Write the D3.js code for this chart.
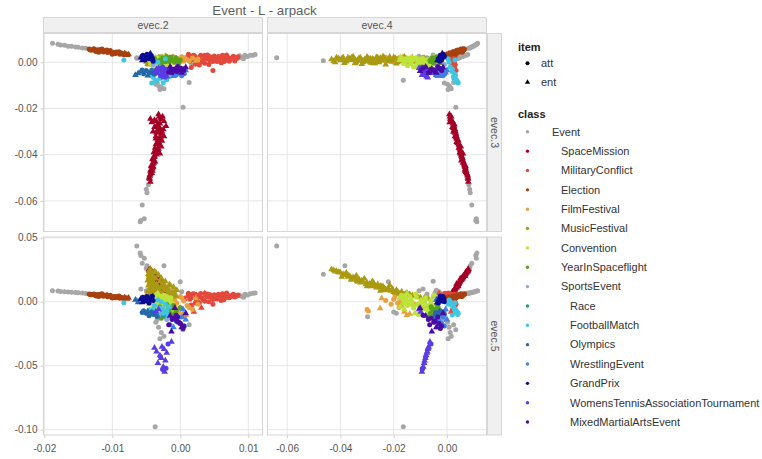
<!DOCTYPE html>
<html><head><meta charset="utf-8">
<script src="https://cdn.jsdelivr.net/npm/d3@7"></script>
<style>
body{margin:0;background:#fff;}
svg{display:block;font-family:"Liberation Sans",Arial,Helvetica,sans-serif;}
</style>
</head><body>
<svg id="chart" width="762" height="459"></svg>
<script>
// ---------------- DATA ----------------
// each point: [evec.2, evec.3, evec.4, evec.5, item]  item: 0 = att, 1 = ent
const eventPts = [
  [-0.0188,0.0082,0.0115,0.0085,0],[-0.0180,0.0078,0.0112,0.0083,0],[-0.0176,0.0075,0.0107,0.0079,0],
  [-0.0170,0.0074,0.0104,0.0078,0],[-0.0165,0.0070,0.0099,0.0075,0],[-0.0160,0.0069,0.0097,0.0074,0],
  [-0.0154,0.0066,0.0092,0.0071,0],[-0.0150,0.0065,0.0089,0.0069,0],[-0.0144,0.0062,0.0086,0.0068,0],
  [-0.0139,0.0061,0.0081,0.0065,0],
  [0.0082,0.0022,0.0035,0.0045,0],[0.0087,0.0028,0.0042,0.0050,0],[0.0091,0.0020,0.0048,0.0040,0],
  [0.0095,0.0030,0.0055,0.0058,0],[0.0099,0.0025,0.0060,0.0052,0],[0.0103,0.0031,0.0066,0.0062,0],
  [0.0107,0.0030,0.0072,0.0066,0],[0.0110,0.0034,0.0078,0.0068,0],[0.0093,0.0015,0.0040,0.0035,0],
  [-0.0064,0.0018,-0.0060,0.0013,0],[-0.0058,0.0022,-0.0090,0.0100,0],[-0.0050,0.0026,-0.0105,0.0085,0],
  [-0.0042,0.0020,-0.0075,0.0060,0],[-0.0030,0.0024,-0.0050,0.0045,0],[-0.0015,0.0020,-0.0045,0.0070,0],
  [-0.0008,0.0018,-0.0040,0.0090,0],[0.0002,0.0016,-0.0030,0.0078,0],[0.0012,0.0012,-0.0020,0.0060,0],
  [-0.0045,0.0032,-0.0052,0.0160,0],[0.0000,0.0010,-0.0220,0.0156,0],[-0.0024,0.0005,-0.0383,0.0281,0],
  [-0.0037,0.0007,-0.0464,0.0214,0],[-0.0064,0.0020,-0.0639,0.0435,0],[-0.0037,-0.0078,-0.0164,-0.0977,0],
  [-0.0010,0.0000,-0.0200,-0.0080,0],[-0.0005,0.0005,-0.0190,-0.0090,0],[0.0005,0.0008,-0.0298,-0.0118,0],
  [-0.0036,-0.0095,0.0002,-0.0160,0],[-0.0032,-0.0102,0.0008,-0.0200,0],[-0.0028,-0.0108,0.0012,-0.0240,0],
  [-0.0024,-0.0115,0.0016,-0.0270,0],[-0.0030,-0.0118,0.0004,-0.0290,0],[-0.0034,-0.0090,-0.0010,-0.0140,0],
  [0.0013,-0.0087,0.0025,-0.0180,0],[0.0004,-0.0195,0.0033,-0.0220,0],[0.0017,-0.0010,0.0030,-0.0040,0],
  [-0.0044,-0.0500,0.0080,0.0230,0],[-0.0047,-0.0530,0.0082,0.0240,0],[-0.0050,-0.0550,0.0085,0.0260,0],
  [-0.0049,-0.0565,0.0087,0.0280,0],[-0.0056,-0.0618,0.0093,0.0300,0],[-0.0053,-0.0677,0.0110,0.0340,0],
  [-0.0059,-0.0690,0.0112,0.0380,0],[-0.0058,-0.0685,0.0108,0.0360,0]
];
const spaceMissionPts = [
  [-0.0032,-0.0225,0.0009,0.0035,1],[-0.0044,-0.0245,0.0012,0.0045,1],[-0.0026,-0.0235,0.0016,0.0040,1],
  [-0.0021,-0.0276,0.0026,0.0085,1],[-0.0035,-0.0255,0.0018,0.0060,1],[-0.0030,-0.0265,0.0022,0.0070,1],
  [-0.0038,-0.0280,0.0020,0.0075,1],[-0.0025,-0.0290,0.0030,0.0100,1],[-0.0033,-0.0300,0.0026,0.0090,1],
  [-0.0028,-0.0310,0.0034,0.0115,1],[-0.0036,-0.0320,0.0030,0.0105,1],[-0.0031,-0.0330,0.0038,0.0125,1],
  [-0.0027,-0.0340,0.0042,0.0140,1],[-0.0034,-0.0350,0.0040,0.0130,1],[-0.0030,-0.0360,0.0046,0.0150,1],
  [-0.0037,-0.0370,0.0044,0.0145,1],[-0.0033,-0.0380,0.0050,0.0165,1],[-0.0039,-0.0390,0.0048,0.0160,1],
  [-0.0035,-0.0400,0.0054,0.0175,1],[-0.0038,-0.0410,0.0056,0.0185,1],[-0.0041,-0.0420,0.0058,0.0180,1],
  [-0.0037,-0.0430,0.0062,0.0200,1],[-0.0040,-0.0440,0.0064,0.0205,1],[-0.0043,-0.0450,0.0066,0.0200,1],
  [-0.0041,-0.0460,0.0070,0.0220,1],[-0.0044,-0.0470,0.0072,0.0225,1],[-0.0042,-0.0480,0.0074,0.0235,1],
  [-0.0045,-0.0490,0.0077,0.0240,1],[-0.0044,-0.0517,0.0080,0.0255,1],[-0.0029,-0.0245,0.0014,0.0050,0],
  [-0.0040,-0.0300,0.0024,0.0080,1],[-0.0024,-0.0320,0.0036,0.0120,1],[-0.0032,-0.0345,0.0036,0.0110,1],
  [-0.0028,-0.0365,0.0052,0.0170,1],[-0.0036,-0.0395,0.0060,0.0190,1],[-0.0039,-0.0425,0.0054,0.0170,1],
  [-0.0043,-0.0465,0.0068,0.0215,1],[-0.0046,-0.0500,0.0078,0.0250,1],[-0.0034,-0.0270,0.0028,0.0095,1],
  [-0.0042,-0.0260,0.0010,0.0055,1],
  [-0.0031,-0.0235,0.0011,0.0040,1],[-0.0038,-0.0250,0.0015,0.0052,1],[-0.0024,-0.0255,0.0020,0.0065,1],
  [-0.0030,-0.0285,0.0024,0.0082,1],[-0.0035,-0.0305,0.0030,0.0100,1],[-0.0029,-0.0325,0.0034,0.0112,1],
  [-0.0033,-0.0335,0.0040,0.0135,1],[-0.0036,-0.0355,0.0044,0.0140,1],[-0.0032,-0.0375,0.0048,0.0158,1],
  [-0.0036,-0.0385,0.0052,0.0170,1],[-0.0038,-0.0405,0.0054,0.0178,1],[-0.0040,-0.0415,0.0058,0.0190,1],
  [-0.0039,-0.0435,0.0060,0.0195,1],[-0.0042,-0.0445,0.0066,0.0210,1],[-0.0040,-0.0455,0.0068,0.0212,1],
  [-0.0043,-0.0475,0.0071,0.0228,1],[-0.0044,-0.0485,0.0076,0.0238,1],[-0.0045,-0.0505,0.0079,0.0248,1],
  [-0.0033,-0.0290,0.0028,0.0092,1],[-0.0027,-0.0300,0.0032,0.0108,1],
  [-0.0036,-0.0330,0.0036,0.0140,1],[-0.0030,-0.0395,0.0050,0.0180,1],[-0.0040,-0.0450,0.0070,0.0230,1],
  [-0.0034,-0.0280,0.0024,0.0070,1],[-0.0041,-0.0470,0.0068,0.0205,1],[-0.0031,-0.0350,0.0042,0.0120,1]
];
const militaryConflictPts = [
  [0.0010,0.0020,0.0000,0.0040,1],[0.0014,0.0005,0.0010,0.0020,0],[0.0018,0.0028,-0.0005,0.0060,0],
  [0.0022,-0.0008,0.0020,-0.0010,0],[0.0026,0.0015,0.0005,0.0035,0],[0.0030,0.0030,0.0000,0.0065,0],
  [0.0034,0.0002,0.0025,0.0015,0],[0.0038,0.0020,0.0012,0.0048,0],[0.0042,-0.0010,0.0030,0.0000,0],
  [0.0046,0.0012,0.0008,0.0030,0],[0.0050,0.0027,0.0002,0.0055,0],[0.0054,0.0004,0.0018,0.0022,0],
  [0.0058,0.0018,0.0010,0.0045,0],[0.0062,0.0030,0.0004,0.0062,0],[0.0066,0.0008,0.0022,0.0028,0],
  [0.0070,0.0022,0.0014,0.0050,0],[0.0074,0.0013,0.0020,0.0038,0],[0.0078,0.0026,0.0016,0.0058,0],
  [0.0082,0.0016,0.0026,0.0044,0],[0.0085,0.0024,0.0030,0.0052,0],[0.0048,-0.0036,0.0034,-0.0020,0],
  [0.0016,-0.0022,0.0028,-0.0026,0],[0.0012,0.0035,-0.0008,0.0066,0],[0.0060,-0.0002,0.0026,0.0010,0],
  [0.0040,0.0032,0.0006,0.0060,0],[0.0020,0.0010,0.0015,-0.0080,1],[0.0031,0.0000,0.0022,-0.0047,1],
  [0.0024,0.0018,-0.0020,0.0050,1],[0.0072,0.0005,0.0024,0.0030,0],[0.0036,0.0024,-0.0030,0.0066,1],
  [0.0006,0.0014,-0.0038,0.0020,1],[0.0080,0.0006,0.0012,0.0036,0],[0.0068,0.0032,0.0006,0.0068,0],
  [0.0044,0.0005,0.0016,0.0042,0],[0.0056,0.0025,0.0028,0.0058,0],
  [0.0012,0.0022,0.0012,0.0050,0],[0.0016,0.0012,0.0006,0.0030,0],[0.0020,0.0030,0.0002,0.0062,0],
  [0.0024,0.0002,0.0024,0.0012,0],[0.0028,0.0022,0.0010,0.0052,0],[0.0032,0.0010,0.0018,0.0028,0],
  [0.0036,0.0030,0.0004,0.0064,0],[0.0040,0.0014,0.0020,0.0036,0],[0.0044,0.0024,0.0008,0.0054,0],
  [0.0048,0.0003,0.0026,0.0018,0],[0.0052,0.0017,0.0012,0.0042,0],[0.0056,0.0009,0.0022,0.0030,0],
  [0.0060,0.0022,0.0006,0.0052,0],[0.0064,0.0015,0.0018,0.0040,0],[0.0068,0.0024,0.0010,0.0056,0],
  [0.0072,0.0016,0.0022,0.0044,0],[0.0076,0.0020,0.0008,0.0050,0],[0.0080,0.0022,0.0020,0.0048,0],
  [0.0084,0.0018,0.0024,0.0046,0],[0.0064,0.0002,0.0028,0.0016,0],[0.0028,-0.0012,0.0030,-0.0006,0],
  [0.0036,-0.0004,0.0024,0.0004,0]
];
const electionPts = [
  [-0.0134,0.0058,0.0066,0.0060,0],[-0.0131,0.0052,0.0062,0.0054,0],[-0.0128,0.0056,0.0060,0.0058,0],
  [-0.0125,0.0050,0.0057,0.0050,0],[-0.0122,0.0054,0.0054,0.0056,0],[-0.0119,0.0047,0.0050,0.0046,0],
  [-0.0116,0.0052,0.0048,0.0052,0],[-0.0113,0.0045,0.0044,0.0042,0],[-0.0110,0.0049,0.0041,0.0048,0],
  [-0.0107,0.0042,0.0038,0.0038,0],[-0.0104,0.0047,0.0034,0.0045,0],[-0.0101,0.0040,0.0030,0.0034,0],
  [-0.0098,0.0044,0.0027,0.0040,0],[-0.0095,0.0038,0.0024,0.0030,0],[-0.0092,0.0042,0.0020,0.0036,0],
  [-0.0089,0.0035,0.0017,0.0027,0],[-0.0086,0.0039,0.0013,0.0032,0],[-0.0083,0.0033,0.0010,0.0024,0],
  [-0.0080,0.0036,0.0006,0.0028,1],[-0.0078,0.0031,0.0003,0.0022,1],[-0.0115,0.0058,0.0052,0.0062,0],
  [-0.0100,0.0035,0.0033,0.0028,0],[-0.0090,0.0046,0.0022,0.0044,0],[-0.0120,0.0043,0.0057,0.0040,0],
  [-0.0076,0.0034,0.0000,0.0030,1],
  [-0.0133,0.0054,0.0064,0.0056,0],[-0.0127,0.0059,0.0061,0.0061,0],[-0.0124,0.0047,0.0055,0.0044,0],
  [-0.0118,0.0055,0.0051,0.0058,0],[-0.0112,0.0050,0.0045,0.0050,0],[-0.0106,0.0046,0.0037,0.0043,0],
  [-0.0103,0.0051,0.0035,0.0050,0],[-0.0097,0.0040,0.0026,0.0034,0],[-0.0094,0.0045,0.0023,0.0041,0],
  [-0.0088,0.0040,0.0016,0.0034,0],[-0.0085,0.0036,0.0012,0.0028,0],[-0.0082,0.0038,0.0008,0.0032,1],
  [-0.0108,0.0053,0.0040,0.0055,0],[-0.0121,0.0050,0.0053,0.0050,0]
];
const filmFestivalPts = [
  [-0.0010,0.0010,-0.0200,0.0020,0],[-0.0005,0.0018,-0.0185,-0.0010,0],[0.0000,0.0008,-0.0195,0.0040,0],
  [0.0005,0.0020,-0.0175,0.0005,0],[0.0010,0.0012,-0.0170,-0.0030,0],[-0.0012,0.0004,-0.0210,-0.0020,0],
  [0.0002,0.0024,-0.0165,0.0030,0],[0.0013,0.0006,-0.0180,-0.0045,0],[0.0023,0.0006,-0.0245,0.0027,1],
  [-0.0006,0.0015,-0.0251,-0.0052,1],[0.0008,0.0016,-0.0151,-0.0104,1],[0.0004,0.0003,-0.0140,-0.0095,1],
  [-0.0003,0.0011,-0.0295,-0.0073,0],[0.0018,0.0019,-0.0300,-0.0060,0],[-0.0008,0.0022,-0.0230,0.0010,0],
  [0.0026,0.0014,-0.0120,-0.0020,0],[-0.0002,0.0005,-0.0160,-0.0080,1]
];
const musicFestivalPts = [
  [-0.0044,0.0013,-0.0433,0.0253,1],[-0.0046,0.0020,-0.0415,0.0240,1],[-0.0043,0.0008,-0.0400,0.0228,1],
  [-0.0047,0.0022,-0.0390,0.0215,1],[-0.0045,0.0003,-0.0378,0.0225,1],[-0.0042,0.0016,-0.0365,0.0200,1],
  [-0.0046,0.0025,-0.0352,0.0190,1],[-0.0040,0.0005,-0.0340,0.0205,1],[-0.0044,0.0018,-0.0330,0.0175,1],
  [-0.0048,-0.0008,-0.0320,0.0165,1],[-0.0036,0.0012,-0.0310,0.0180,1],[-0.0045,0.0024,-0.0300,0.0150,1],
  [-0.0038,0.0002,-0.0290,0.0140,1],[-0.0030,0.0015,-0.0280,0.0160,1],[-0.0047,-0.0005,-0.0270,0.0125,1],
  [-0.0026,0.0020,-0.0260,0.0135,1],[-0.0042,0.0008,-0.0250,0.0110,1],[-0.0022,0.0026,-0.0240,0.0120,1],
  [-0.0046,-0.0010,-0.0230,0.0095,1],[-0.0018,0.0014,-0.0220,0.0105,1],[-0.0040,0.0004,-0.0210,0.0085,1],
  [-0.0012,0.0022,-0.0200,0.0075,1],[-0.0044,-0.0006,-0.0190,0.0090,1],[-0.0008,0.0016,-0.0180,0.0065,1],
  [-0.0048,0.0006,-0.0170,0.0080,1],[-0.0020,0.0024,-0.0160,0.0055,1],[-0.0036,-0.0002,-0.0150,0.0070,1],
  [-0.0015,0.0012,-0.0140,0.0060,1],[-0.0010,0.0020,-0.0130,0.0050,1],[-0.0050,0.0002,-0.0120,0.0045,1],
  [-0.0006,0.0015,-0.0110,0.0040,1],[-0.0030,0.0008,-0.0100,0.0035,1],[-0.0052,0.0018,-0.0085,0.0030,1],
  [-0.0025,0.0005,-0.0070,0.0025,1],[-0.0045,0.0010,-0.0360,0.0170,1],[-0.0043,0.0006,-0.0300,0.0120,1],
  [-0.0041,0.0018,-0.0250,0.0085,1],[-0.0046,0.0015,-0.0395,0.0195,1],[-0.0044,-0.0002,-0.0340,0.0160,0],
  [-0.0040,0.0024,-0.0215,0.0130,1],
  [-0.0045,0.0005,-0.0425,0.0245,1],[-0.0044,0.0017,-0.0408,0.0232,1],[-0.0046,-0.0003,-0.0385,0.0208,1],
  [-0.0043,0.0010,-0.0372,0.0195,1],[-0.0045,0.0020,-0.0358,0.0182,1],[-0.0041,-0.0004,-0.0346,0.0178,1],
  [-0.0043,0.0010,-0.0335,0.0168,1],[-0.0040,0.0020,-0.0325,0.0150,1],[-0.0044,0.0000,-0.0315,0.0155,1],
  [-0.0035,0.0008,-0.0305,0.0135,1],[-0.0042,0.0016,-0.0295,0.0130,1],[-0.0033,-0.0002,-0.0285,0.0120,1],
  [-0.0040,0.0012,-0.0275,0.0145,1],[-0.0028,0.0022,-0.0265,0.0110,1],[-0.0038,0.0000,-0.0255,0.0120,1],
  [-0.0024,0.0012,-0.0245,0.0095,1],[-0.0036,0.0018,-0.0235,0.0105,1],[-0.0020,0.0004,-0.0225,0.0088,1],
  [-0.0034,0.0010,-0.0205,0.0100,1],[-0.0016,0.0018,-0.0195,0.0070,1],[-0.0030,0.0000,-0.0185,0.0080,1],
  [-0.0044,0.0012,-0.0175,0.0060,1],[-0.0026,0.0014,-0.0155,0.0062,1],[-0.0046,0.0004,-0.0145,0.0050,1],
  [-0.0028,0.0010,-0.0345,0.0185,1],[-0.0022,0.0006,-0.0318,0.0160,1],[-0.0016,0.0016,-0.0288,0.0135,1],
  [-0.0010,0.0004,-0.0262,0.0115,1],[-0.0005,0.0012,-0.0232,0.0090,1],[-0.0032,0.0020,-0.0372,0.0210,1],
  [-0.0026,-0.0004,-0.0278,0.0150,1],[-0.0014,0.0008,-0.0248,0.0125,1],[-0.0036,0.0014,-0.0405,0.0230,1],
  [-0.0038,0.0000,-0.0420,0.0235,1]
];
const conventionPts = [
  [-0.0040,0.0010,-0.0178,0.0030,1],[-0.0036,0.0020,-0.0170,0.0050,0],[-0.0032,-0.0005,-0.0162,-0.0010,0],
  [-0.0028,0.0015,-0.0155,0.0020,0],[-0.0024,-0.0015,-0.0148,-0.0030,0],[-0.0020,0.0005,-0.0140,0.0040,0],
  [-0.0016,0.0022,-0.0132,0.0000,0],[-0.0038,-0.0020,-0.0125,-0.0050,0],[-0.0034,0.0018,-0.0118,0.0060,0],
  [-0.0030,0.0000,-0.0110,-0.0020,0],[-0.0026,-0.0024,-0.0102,-0.0070,0],[-0.0022,0.0012,-0.0095,0.0015,0],
  [-0.0018,-0.0010,-0.0088,-0.0040,0],[-0.0014,0.0008,-0.0080,0.0030,0],[-0.0044,0.0004,-0.0073,-0.0060,0],
  [-0.0040,-0.0016,-0.0066,-0.0085,0],[-0.0036,0.0016,-0.0060,0.0010,0],[-0.0030,-0.0008,-0.0054,-0.0030,0],
  [-0.0024,0.0024,-0.0048,0.0050,0],[-0.0012,-0.0004,-0.0092,-0.0010,0],[-0.0046,0.0013,-0.0140,-0.0020,1],
  [-0.0020,-0.0020,-0.0120,-0.0090,1],[-0.0033,0.0007,-0.0150,0.0066,1],[-0.0010,0.0014,-0.0100,-0.0060,0],
  [-0.0042,-0.0008,-0.0085,0.0000,0],[-0.0027,0.0021,-0.0175,-0.0040,1],[-0.0017,-0.0013,-0.0065,-0.0104,1],
  [-0.0035,0.0012,-0.0165,0.0020,0],[-0.0029,0.0004,-0.0158,0.0045,0],[-0.0025,0.0018,-0.0145,-0.0005,0],
  [-0.0021,-0.0006,-0.0135,0.0020,0],[-0.0033,0.0010,-0.0128,-0.0030,0],[-0.0027,0.0020,-0.0115,0.0035,0],
  [-0.0019,0.0002,-0.0105,-0.0040,0],[-0.0031,-0.0012,-0.0098,0.0005,0],[-0.0023,0.0016,-0.0090,-0.0055,0],
  [-0.0015,0.0004,-0.0083,0.0010,0],[-0.0039,0.0008,-0.0076,-0.0030,0],[-0.0027,-0.0002,-0.0070,-0.0070,0],
  [-0.0021,0.0012,-0.0062,-0.0020,0],[-0.0035,0.0020,-0.0056,-0.0050,0],[-0.0013,0.0006,-0.0050,-0.0080,0],
  [-0.0043,-0.0004,-0.0160,-0.0060,1],[-0.0037,-0.0014,-0.0108,-0.0100,0],[-0.0029,0.0010,-0.0075,-0.0105,0]
];
const yearInSpaceflightPts = [
  [-0.0030,0.0010,-0.0060,-0.0040,0],[-0.0026,0.0020,-0.0055,-0.0080,0],[-0.0022,0.0002,-0.0050,-0.0110,0],
  [-0.0018,0.0015,-0.0045,-0.0060,0],[-0.0014,0.0022,-0.0040,-0.0100,0],[-0.0010,0.0006,-0.0035,-0.0030,0],
  [-0.0006,0.0018,-0.0030,-0.0070,0],[-0.0002,-0.0002,-0.0025,-0.0120,0],[-0.0034,0.0004,-0.0062,-0.0090,0],
  [-0.0028,-0.0003,-0.0048,-0.0130,0],[-0.0020,0.0024,-0.0038,-0.0020,0],[-0.0012,0.0012,-0.0058,-0.0050,0],
  [-0.0038,0.0016,-0.0042,-0.0070,0],[-0.0008,0.0000,-0.0052,-0.0095,0],[0.0000,0.0010,-0.0033,-0.0045,0],
  [-0.0024,0.0008,-0.0064,-0.0115,0],[-0.0016,0.0004,-0.0028,-0.0085,0]
];
const sportsEventPts = [
  [-0.0030,-0.0030,-0.0030,-0.0100,0],[-0.0020,-0.0040,-0.0020,-0.0140,0],[-0.0040,-0.0010,-0.0010,-0.0080,0]
];
const racePts = [
  [-0.0035,-0.0040,-0.0025,-0.0090,0],[-0.0025,-0.0050,-0.0015,-0.0110,0]
];
const footballMatchPts = [
  [-0.0083,0.0010,0.0030,-0.0008,0],[-0.0040,-0.0065,0.0030,-0.0060,0],[-0.0035,-0.0080,0.0038,-0.0080,0],
  [-0.0030,-0.0070,0.0026,-0.0050,0],[-0.0025,-0.0088,0.0042,-0.0090,0],[-0.0020,-0.0075,0.0034,-0.0070,0],
  [-0.0042,-0.0090,0.0040,-0.0100,0],[-0.0016,-0.0062,0.0024,-0.0040,0],[-0.0038,-0.0040,0.0018,-0.0030,0],
  [-0.0028,-0.0020,0.0012,0.0000,0],[-0.0033,0.0000,0.0008,0.0013,0],[-0.0022,0.0015,0.0004,-0.0020,0],
  [-0.0045,-0.0055,0.0032,-0.0065,0],[-0.0018,-0.0030,0.0020,-0.0104,0],[-0.0036,-0.0085,0.0036,-0.0085,1],
  [-0.0026,-0.0050,0.0028,-0.0055,0]
];
const olympicsPts = [
  [-0.0066,-0.0055,-0.0040,0.0015,1],[-0.0062,-0.0048,-0.0035,-0.0005,1],[-0.0058,-0.0040,-0.0030,0.0020,1],
  [-0.0054,-0.0050,-0.0025,-0.0070,0],[-0.0050,-0.0036,-0.0020,-0.0090,0],[-0.0046,-0.0045,-0.0045,-0.0110,0],
  [-0.0042,-0.0034,-0.0015,-0.0080,0],[-0.0038,-0.0052,-0.0010,-0.0100,0],[-0.0034,-0.0040,-0.0035,-0.0115,0],
  [-0.0048,-0.0058,-0.0028,-0.0075,1],[-0.0040,-0.0046,-0.0022,-0.0095,0],[-0.0056,-0.0033,-0.0042,-0.0085,0]
];
const wrestlingEventPts = [
  [-0.0012,-0.0045,-0.0040,-0.0130,0],[-0.0006,-0.0055,-0.0030,-0.0150,0],[0.0000,-0.0040,-0.0020,-0.0170,0],
  [0.0006,-0.0050,-0.0010,-0.0190,0],[-0.0010,-0.0060,-0.0035,-0.0200,1],[0.0008,-0.0035,0.0000,-0.0140,1],
  [-0.0004,-0.0048,-0.0045,-0.0160,0],[0.0002,-0.0058,-0.0015,-0.0120,0],[-0.0015,-0.0038,-0.0025,-0.0180,0],
  [0.0004,-0.0044,-0.0005,-0.0060,1]
];
const grandPrixPts = [
  [-0.0058,0.0020,-0.0030,0.0020,1],[-0.0055,0.0030,-0.0025,0.0035,0],[-0.0052,0.0010,-0.0020,0.0005,0],
  [-0.0049,0.0035,-0.0015,0.0040,0],[-0.0046,0.0015,-0.0033,-0.0010,0],[-0.0043,0.0028,-0.0012,0.0025,0],
  [-0.0040,0.0005,-0.0028,0.0010,0],[-0.0050,0.0022,-0.0022,0.0015,0],[-0.0044,0.0038,-0.0018,0.0030,1],
  [-0.0056,0.0008,-0.0036,-0.0005,1],[-0.0047,0.0025,-0.0010,0.0000,0],[-0.0041,0.0018,-0.0026,0.0042,0]
];
const wtaPts = [
  [-0.0035,-0.0030,-0.0074,-0.0390,1],[-0.0027,-0.0045,-0.0069,-0.0352,1],[-0.0023,-0.0055,-0.0094,-0.0547,1],
  [-0.0025,-0.0040,-0.0089,-0.0508,1],[-0.0030,-0.0035,-0.0078,-0.0420,1],[-0.0022,-0.0050,-0.0084,-0.0460,1],
  [-0.0028,-0.0028,-0.0081,-0.0440,1],[-0.0020,-0.0062,-0.0076,-0.0400,1],[-0.0033,-0.0048,-0.0086,-0.0480,1],
  [-0.0024,-0.0066,-0.0072,-0.0370,1],[-0.0013,-0.0038,-0.0064,-0.0313,1],[-0.0026,-0.0020,-0.0093,-0.0530,0],
  [-0.0038,-0.0042,-0.0070,-0.0360,1],[-0.0021,-0.0030,-0.0092,-0.0520,0],[-0.0029,-0.0058,-0.0080,-0.0430,0],
  [-0.0032,-0.0025,-0.0105,-0.0060,1],[-0.0018,-0.0045,-0.0060,-0.0330,0],[-0.0036,-0.0036,-0.0098,-0.0080,1]
];
const mmaPts = [
  [-0.0015,-0.0020,-0.0080,-0.0110,1],[-0.0010,-0.0030,-0.0060,-0.0130,0],[-0.0005,-0.0040,-0.0045,-0.0150,0],
  [0.0000,-0.0025,-0.0030,-0.0170,0],[0.0005,-0.0035,-0.0020,-0.0190,0],[-0.0012,-0.0045,-0.0070,-0.0140,0],
  [-0.0002,-0.0032,-0.0050,-0.0160,0],[0.0008,-0.0022,-0.0015,-0.0090,1],[0.0002,-0.0046,-0.0040,-0.0200,1],
  [-0.0013,-0.0028,-0.0057,-0.0234,1],[-0.0008,-0.0038,-0.0101,-0.0050,1],[-0.0004,-0.0018,-0.0035,-0.0120,0],
  [-0.0017,-0.0042,-0.0065,-0.0180,0],[0.0004,-0.0028,-0.0025,-0.0210,0],[-0.0006,-0.0026,-0.0090,-0.0105,0]
];

const classNames = ["Event","SpaceMission","MilitaryConflict","Election","FilmFestival","MusicFestival",
  "Convention","YearInSpaceflight","SportsEvent","Race","FootballMatch","Olympics","WrestlingEvent",
  "GrandPrix","WomensTennisAssociationTournament","MixedMartialArtsEvent"];
const classDepth = [0,1,1,1,1,1,1,1,1,2,2,2,2,2,2,2];
const classPoints = [eventPts,spaceMissionPts,militaryConflictPts,electionPts,filmFestivalPts,musicFestivalPts,
  conventionPts,yearInSpaceflightPts,sportsEventPts,racePts,footballMatchPts,olympicsPts,wrestlingEventPts,
  grandPrixPts,wtaPts,mmaPts];
const classColors = ["#a6a6a6","#a50026","#e3493b","#a8400f","#e9a03e","#a99a12","#bde33a","#5aa11c",
  "#8ba4dd","#1b9e85","#3ec7e3","#2469aa","#3f7fe6","#0b0b96","#5a3ce6","#4a0aa4"];
const itemNames = ["att","ent"];

const colLabels = ["evec.2","evec.4"];
const rowLabels = ["evec.3","evec.5"];
const colVar = [0,2];
const rowVar = [1,3];
const ticksE2 = [-0.02,-0.01,0.00,0.01];
const ticksE4 = [-0.06,-0.04,-0.02,0.00];
const ticksE3 = [0.00,-0.02,-0.04,-0.06];
const ticksE5 = [0.05,0.00,-0.05,-0.10];
const colTicks = [ticksE2, ticksE4];
const rowTicks = [ticksE3, ticksE5];
const titleText = "Event - L - arpack";

// ---------------- LAYOUT ----------------
const svg = d3.select("#chart");
const colX = [[43.5,262.5],[267.5,486.5]];
const rowY = [[33.5,231.5],[237,435]];
const xDom = [[-0.02012,0.01209],[-0.06735,0.01482]];
const yDom = [[-0.07325,0.01247],[-0.10414,0.05055]];
const xs = colX.map((r,i)=>d3.scaleLinear().domain(xDom[i]).range(r));
const ys = rowY.map((r,i)=>d3.scaleLinear().domain(yDom[i]).range([r[1],r[0]]));
const fmt = v => v.toFixed(2);
const gridCol = "#e3e3e3", borderCol = "#d6d6d6", txtCol = "#555";

svg.append("rect").attr("width",762).attr("height",459).attr("fill","#fff");

svg.append("text").attr("x",264.5).attr("y",15).attr("text-anchor","middle")
  .attr("font-size",13.3).attr("fill","#5e5e5e").text(titleText);

const defs = svg.append("defs");
const tri = d3.symbol().type(d3.symbolTriangle).size(19);

for (let r=0;r<2;r++){
  for (let c=0;c<2;c++){
    const x0=colX[c][0], x1=colX[c][1], y0=rowY[r][0], y1=rowY[r][1];
    const id = `clip${r}${c}`;
    defs.append("clipPath").attr("id",id).append("rect")
      .attr("x",x0).attr("y",y0).attr("width",x1-x0).attr("height",y1-y0);
    const g = svg.append("g");
    g.append("rect").attr("x",x0).attr("y",y0).attr("width",x1-x0).attr("height",y1-y0).attr("fill","#fff");
    g.selectAll(null).data(colTicks[c]).join("line")
      .attr("x1",d=>xs[c](d)).attr("x2",d=>xs[c](d)).attr("y1",y0).attr("y2",y1)
      .attr("stroke",gridCol).attr("stroke-width",0.9);
    g.selectAll(null).data(rowTicks[r]).join("line")
      .attr("y1",d=>ys[r](d)).attr("y2",d=>ys[r](d)).attr("x1",x0).attr("x2",x1)
      .attr("stroke",gridCol).attr("stroke-width",0.9);
    const pg = g.append("g").attr("clip-path",`url(#${id})`);
    classPoints.forEach((pts,k)=>{
      const col = classColors[k];
      pts.forEach(p=>{
        const px = xs[c](p[colVar[c]]), py = ys[r](p[rowVar[r]]);
        if (p[4]===0){
          pg.append("circle").attr("cx",px).attr("cy",py).attr("r",2.5).attr("fill",col);
        } else {
          pg.append("path").attr("d",tri).attr("transform",`translate(${px},${py})`).attr("fill",col);
        }
      });
    });
    g.append("rect").attr("x",x0).attr("y",y0).attr("width",x1-x0).attr("height",y1-y0)
      .attr("fill","none").attr("stroke",borderCol).attr("stroke-width",1);
  }
}

colLabels.forEach((lab,c)=>{
  svg.append("rect").attr("x",colX[c][0]).attr("y",17.5).attr("width",colX[c][1]-colX[c][0]).attr("height",15)
    .attr("fill","#f0f0f0").attr("stroke",borderCol);
  svg.append("text").attr("x",(colX[c][0]+colX[c][1])/2).attr("y",29).attr("text-anchor","middle")
    .attr("font-size",10.5).attr("fill",txtCol).text(lab);
});
rowLabels.forEach((lab,r)=>{
  svg.append("rect").attr("x",487.5).attr("y",rowY[r][0]).attr("width",14).attr("height",rowY[r][1]-rowY[r][0])
    .attr("fill","#f0f0f0").attr("stroke",borderCol);
  const cy=(rowY[r][0]+rowY[r][1])/2;
  svg.append("text").attr("transform",`translate(491,${cy}) rotate(90)`).attr("text-anchor","middle")
    .attr("font-size",10.5).attr("fill",txtCol).text(lab);
});

colTicks.forEach((ticks,c)=>{
  const g = svg.append("g").attr("transform",`translate(0,${rowY[1][1]})`);
  g.call(d3.axisBottom(xs[c]).tickValues(ticks).tickFormat(fmt).tickSize(3).tickPadding(6.5));
  g.select(".domain").remove();
  g.selectAll(".tick line").attr("stroke","#cfcfcf");
  g.selectAll(".tick text").attr("font-size",10).attr("fill",txtCol)
    .attr("font-family","'Liberation Sans',Arial,sans-serif");
});
rowTicks.forEach((ticks,r)=>{
  const g = svg.append("g").attr("transform",`translate(${colX[0][0]},0)`);
  g.call(d3.axisLeft(ys[r]).tickValues(ticks).tickFormat(fmt).tickSize(3).tickPadding(3));
  g.select(".domain").remove();
  g.selectAll(".tick line").attr("stroke","#cfcfcf");
  g.selectAll(".tick text").attr("font-size",10).attr("fill",txtCol)
    .attr("font-family","'Liberation Sans',Arial,sans-serif");
});

const lg = svg.append("g");
lg.append("text").attr("x",518).attr("y",50.5).attr("font-size",11).attr("font-weight","bold").attr("fill","#222").text("item");
itemNames.forEach((nm,i)=>{
  const cy = 63.3 + i*19;
  if (i===0) lg.append("circle").attr("cx",527.5).attr("cy",cy).attr("r",2).attr("fill","#000");
  else lg.append("path").attr("d",d3.symbol().type(d3.symbolTriangle).size(12)).attr("transform",`translate(527.5,${cy})`).attr("fill","#000");
  lg.append("text").attr("x",541).attr("y",cy+3.8).attr("font-size",11).attr("fill","#333").text(nm);
});
lg.append("text").attr("x",518).attr("y",117.5).attr("font-size",11).attr("font-weight","bold").attr("fill","#222").text("class");
classNames.forEach((nm,i)=>{
  const cy = 131.8 + i*19.35;
  lg.append("circle").attr("cx",527.5).attr("cy",cy).attr("r",1.7).attr("fill",classColors[i]);
  lg.append("text").attr("x",552 + classDepth[i]*9).attr("y",cy+3.8).attr("font-size",11).attr("fill","#333").text(nm);
});
</script>
</body></html>
